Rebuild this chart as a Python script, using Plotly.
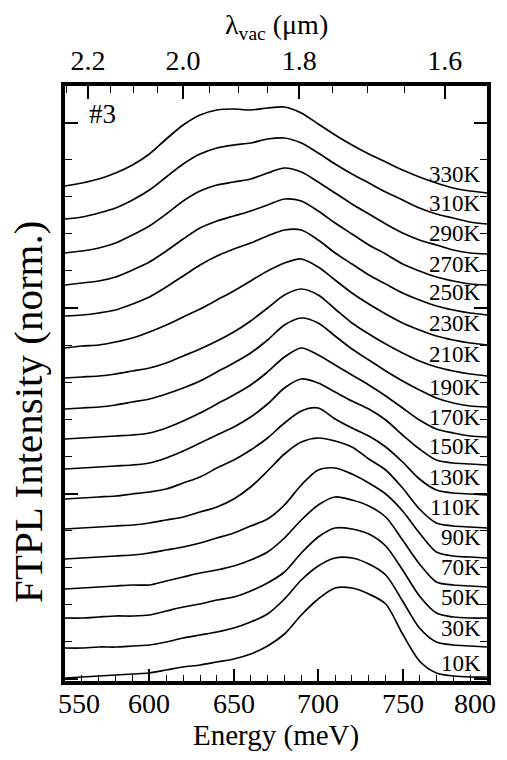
import plotly.graph_objects as go

# ---------------- data ----------------
ENERGY_MEV = [550, 560, 570, 580, 590, 600, 610, 620, 630, 640, 650, 660, 670,
              680, 690, 700, 710, 720, 730, 740, 750, 760, 770, 780, 790, 800]

TEMPS = ["10K", "30K", "50K", "70K", "90K", "110K", "130K", "150K", "170K",
         "190K", "210K", "230K", "250K", "270K", "290K", "310K", "330K"]

I_10K  = [3, 4, 5, 6, 7, 8, 11, 14, 16, 19, 22, 27, 35, 47, 66, 82, 93, 93, 87, 77, 47, 20, 8, 5, 4, 4]
I_30K  = [3, 3, 4, 4, 5, 6, 9, 13, 16, 19, 23, 29, 37, 52, 71, 85, 93, 93, 87, 76, 50, 23, 9, 6, 5, 4]
I_50K  = [3, 3, 4, 5, 5, 6, 10, 14, 17, 21, 24, 30, 38, 49, 68, 84, 93, 92, 87, 75, 51, 25, 8, 4, 3, 3]
I_70K  = [2, 3, 4, 5, 6, 6, 10, 14, 18, 21, 25, 31, 39, 53, 71, 86, 94, 91, 85, 74, 51, 27, 9, 6, 5, 4]
I_90K  = [2, 3, 4, 5, 6, 8, 11, 14, 18, 23, 28, 35, 42, 56, 76, 91, 93, 87, 78, 67, 50, 28, 9, 5, 4, 3]
I_110K = [2, 3, 4, 5, 6, 8, 11, 14, 19, 24, 32, 44, 60, 77, 89, 93, 90, 84, 72, 61, 43, 22, 8, 5, 4, 3]
I_130K = [2, 3, 4, 5, 7, 9, 12, 18, 24, 33, 41, 51, 63, 78, 90, 93, 82, 73, 65, 54, 39, 22, 11, 8, 7, 6]
I_150K = [2, 3, 4, 5, 6, 8, 13, 20, 28, 36, 44, 54, 67, 83, 92, 88, 79, 70, 62, 51, 36, 22, 11, 8, 7, 6]
I_170K = [2, 3, 4, 5, 6, 8, 13, 20, 28, 37, 46, 56, 69, 84, 93, 86, 76, 66, 56, 45, 33, 21, 12, 8, 5, 4]
I_190K = [2, 3, 4, 6, 9, 12, 17, 23, 30, 39, 48, 58, 71, 86, 93, 88, 75, 62, 51, 40, 30, 21, 13, 8, 5, 4]
I_210K = [3, 4, 5, 7, 10, 13, 18, 25, 32, 40, 49, 60, 73, 86, 92, 86, 72, 58, 47, 37, 28, 20, 14, 10, 7, 5]
I_230K = [3, 5, 6, 9, 13, 19, 26, 34, 42, 51, 60, 70, 80, 88, 92, 84, 71, 58, 47, 37, 28, 21, 15, 11, 8, 6]
I_250K = [5, 6, 8, 11, 17, 24, 34, 45, 56, 65, 72, 78, 85, 91, 91, 81, 68, 57, 46, 37, 28, 21, 15, 11, 8, 6]
I_270K = [6, 8, 10, 14, 21, 29, 40, 52, 63, 70, 75, 80, 86, 92, 90, 80, 68, 57, 46, 37, 27, 20, 14, 10, 7, 6]
I_290K = [8, 10, 13, 18, 26, 35, 47, 60, 70, 76, 79, 82, 88, 93, 89, 79, 68, 57, 47, 37, 28, 21, 16, 11, 8, 7]
I_310K = [12, 14, 18, 23, 31, 41, 54, 67, 77, 83, 86, 88, 92, 93, 88, 78, 67, 57, 48, 39, 31, 23, 17, 13, 9, 7]
I_330K = [15, 18, 22, 28, 36, 47, 62, 76, 86, 91, 92, 91, 93, 94, 88, 77, 66, 56, 47, 39, 31, 24, 18, 13, 10, 8]

SERIES = [I_10K, I_30K, I_50K, I_70K, I_90K, I_110K, I_130K, I_150K, I_170K,
          I_190K, I_210K, I_230K, I_250K, I_270K, I_290K, I_310K, I_330K]

LAMBDA_MAJOR = [2.2, 2.0, 1.8, 1.6]
LAMBDA_MAJOR_TEXT = ["2.2", "2.0", "1.8", "1.6"]
LAMBDA_MINOR = [2.25, 2.15, 2.1, 2.05, 1.95, 1.9, 1.85, 1.75, 1.7, 1.65, 1.55]
ENERGY_TICKS = [550, 600, 650, 700, 750, 800]

HC = 1239.84  # meV * um

# ---------------- style ----------------
OFFSET_STEP = 30
LABEL_RAISE = [18, 23, 24, 24, 24, 24, 24, 25, 24, 24, 27, 28, 29, 27, 28, 28, 27]
FONT = "'Liberation Serif', 'Times New Roman', Times, serif"
X_RANGE = [550, 800]
Y_RANGE = [0, 595]
END_LABEL_SHIFT = {550: 14, 800: -12}

fig = go.Figure()
for k, (temp, vals) in enumerate(zip(TEMPS, SERIES)):
    fig.add_trace(go.Scatter(
        x=ENERGY_MEV, y=[v + k * OFFSET_STEP for v in vals],
        mode="lines", line=dict(color="black", width=1.7, shape="spline", smoothing=0.8),
        showlegend=False, hoverinfo="skip"))

# invisible trace to activate the top (wavelength) axis
fig.add_trace(go.Scatter(x=ENERGY_MEV, y=I_10K, xaxis="x2", mode="lines",
                         opacity=0, showlegend=False, hoverinfo="skip"))

annotations = []
for k, (temp, vals) in enumerate(zip(TEMPS, SERIES)):
    annotations.append(dict(
        x=ENERGY_MEV[-1], y=k * OFFSET_STEP + LABEL_RAISE[k], xref="x", yref="y",
        text=temp, showarrow=False, xanchor="right", yanchor="middle", xshift=-4,
        font=dict(family=FONT, size=23, color="black")))

for t in ENERGY_TICKS:
    annotations.append(dict(
        x=t, y=0, xref="x", yref="paper", text=str(t), showarrow=False,
        xanchor="center", yanchor="top", xshift=END_LABEL_SHIFT.get(t, 0), yshift=-5,
        font=dict(family=FONT, size=28, color="black")))

annotations += [
    dict(x=0.09, y=0.953, xref="paper", yref="paper", text="#3", showarrow=False,
         xanchor="center", yanchor="middle",
         font=dict(family=FONT, size=27, color="black")),
    dict(x=0.5, y=-0.0924, xref="paper", yref="paper", text="Energy (meV)",
         showarrow=False, xanchor="center", yanchor="middle",
         font=dict(family=FONT, size=29, color="black")),
    dict(x=-0.088, y=0.452, xref="paper", yref="paper", text="FTPL Intensity (norm.)",
         showarrow=False, xanchor="center", yanchor="middle", textangle=-90,
         font=dict(family=FONT, size=41, color="black")),
    dict(x=0.5, y=1.1, xref="paper", yref="paper",
         text="λ<sub>vac</sub> (μm)", showarrow=False, xanchor="center", yanchor="middle",
         font=dict(family=FONT, size=28, color="black")),
]

fig.update_layout(
    width=507, height=760,
    margin=dict(l=65, r=19.5, t=86, b=79),
    paper_bgcolor="white", plot_bgcolor="white",
    font=dict(family=FONT, color="black"),
    annotations=annotations,
    xaxis=dict(
        range=X_RANGE, tickmode="array", tickvals=ENERGY_TICKS, showticklabels=False,
        ticks="inside", ticklen=12, tickwidth=1.6, tickcolor="black",
        minor=dict(dtick=10, tick0=550, ticks="inside", ticklen=6, tickwidth=1.4, tickcolor="black"),
        showline=True, linewidth=3.5, linecolor="black", mirror=True,
        showgrid=False, zeroline=False),
    xaxis2=dict(
        overlaying="x", side="top", anchor="y", range=X_RANGE,
        tickmode="array", tickvals=[HC / l for l in LAMBDA_MAJOR], ticktext=LAMBDA_MAJOR_TEXT,
        ticks="inside", ticklen=13, tickwidth=1.6, tickcolor="black", ticklabelstandoff=9,
        minor=dict(tickmode="array", tickvals=[HC / l for l in LAMBDA_MINOR],
                   ticks="inside", ticklen=7, tickwidth=1.4, tickcolor="black"),
        showline=False, showgrid=False, zeroline=False,
        tickfont=dict(family=FONT, size=28, color="black")),
    yaxis=dict(
        range=Y_RANGE, tickmode="linear", tick0=2, dtick=185.5,
        ticks="inside", ticklen=13, tickwidth=1.6, tickcolor="black",
        minor=dict(tick0=2, dtick=37.1, ticks="inside", ticklen=7, tickwidth=1.4, tickcolor="black"),
        showticklabels=False, showline=True, linewidth=3.5, linecolor="black",
        mirror="ticks", showgrid=False, zeroline=False),
)

fig.write_html("out.html", config={"displayModeBar": False},
               post_script="document.body.style.margin='0px';")
